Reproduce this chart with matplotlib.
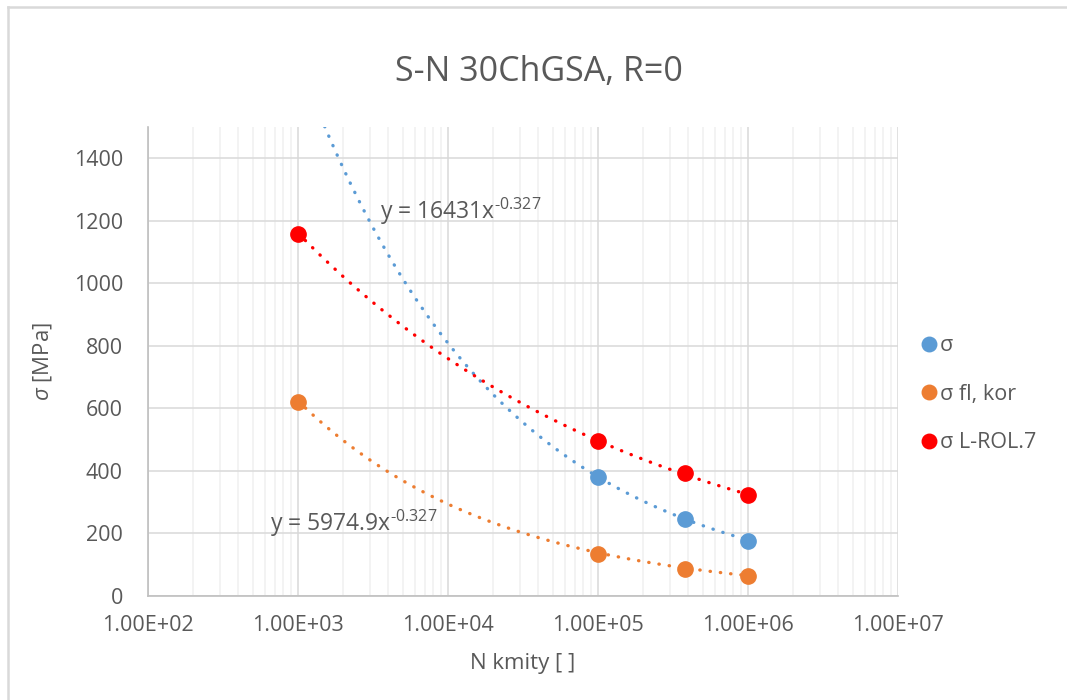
import numpy as np
import matplotlib
matplotlib.use("Agg")
from matplotlib import pyplot as plt
from matplotlib.lines import Line2D
from matplotlib.ticker import FixedLocator, LogLocator, NullFormatter

plt.rcParams['font.family'] = ['Open Sans', 'DejaVu Sans']
plt.rcParams['mathtext.fontset'] = 'custom'
plt.rcParams['mathtext.rm'] = 'Open Sans'
plt.rcParams['mathtext.it'] = 'Open Sans:italic'

# data
n_sigma = [1e5, 3.8e5, 1e6]
sigma = [380, 246, 175]

n_fl_kor = [1e3, 1e5, 3.8e5, 1e6]
sigma_fl_kor = [622, 134, 86, 64]

n_lrol = [1e3, 1e5, 3.8e5, 1e6]
sigma_lrol = [1159, 497, 392, 322]

# power trendlines shown on the chart (y = a * x^b)
fit_sigma = (16431, -0.327)
fit_fl_kor = (5974.9, -0.327)

x_ticks = [1e2, 1e3, 1e4, 1e5, 1e6, 1e7]
y_ticks = [0, 200, 400, 600, 800, 1000, 1200, 1400]

c_blue = '#5B9BD5'
c_orange = '#ED7D31'
c_red = '#FF0000'
c_text = '#595959'

fig = plt.figure(figsize=(10.67, 7), dpi=100)
ax = fig.add_axes([148 / 1067, 1 - 596 / 700, 750 / 1067, 469 / 700])

# trendlines
x_tr = np.logspace(3, 6, 300)
b_red, loga_red = np.polyfit(np.log10(n_lrol), np.log10(sigma_lrol), 1)
fits = [
    (fit_sigma[0], fit_sigma[1], c_blue),
    (fit_fl_kor[0], fit_fl_kor[1], c_orange),
    (10 ** loga_red, b_red, c_red),
]
for a, b, c in fits:
    ax.plot(x_tr, a * x_tr ** b, color=c, lw=2.4, linestyle=(0, (0.1, 3.0)),
            dash_capstyle='round', zorder=3, clip_on=True)

# points
ms = 11
ax.plot(n_sigma, sigma, 'o', color=c_blue, ms=ms, label='σ', zorder=4)
ax.plot(n_fl_kor, sigma_fl_kor, 'o', color=c_orange, ms=ms, label='σ fl, kor', zorder=4)
ax.plot(n_lrol, sigma_lrol, 'o', color=c_red, ms=ms, label='σ L-ROL.7', zorder=4)

ax.set_xscale('log')
ax.set_xlim(1e2, 1e7)
ax.set_ylim(0, 1500)
ax.xaxis.set_major_locator(FixedLocator(x_ticks))
ax.xaxis.set_minor_locator(LogLocator(base=10, subs=np.arange(2, 10)))
ax.xaxis.set_minor_formatter(NullFormatter())
ax.set_xticks(x_ticks)
ax.set_xticklabels(['%.2E' % v for v in x_ticks])
ax.set_yticks(y_ticks)

ax.grid(which='major', axis='both', color='#d9d9d9', lw=1.1, zorder=0)
ax.grid(which='minor', axis='x', color='#f0f0f0', lw=1.1, zorder=0)
ax.set_axisbelow(True)

for s in ['top', 'right']:
    ax.spines[s].set_visible(False)
for s in ['left', 'bottom']:
    ax.spines[s].set_color('#bfbfbf')
    ax.spines[s].set_linewidth(1.2)

ax.tick_params(which='both', length=0, labelsize=15.5, labelcolor=c_text)
ax.tick_params(axis='x', pad=14)
ax.tick_params(axis='y', pad=18)

fig.text(539 / 1067, 1 - 72 / 700, 'S-N 30ChGSA, R=0', fontsize=24.5, color=c_text,
         ha='center', va='center')
ax.set_xlabel('N kmity [ ]', fontsize=16, color=c_text, labelpad=12)
ax.set_ylabel(r'$\mathit{\sigma}$ [MPa]', fontsize=16, color=c_text, labelpad=14)

# trendline equations
ax.text(3520, 1231, 'y = 16431x$^{\u20100.327}$', fontsize=16.5, color=c_text,
        va='center', ha='left', zorder=5)
ax.text(651, 233, 'y = 5974.9x$^{\u20100.327}$', fontsize=16.5, color=c_text,
        va='center', ha='left', zorder=5)

leg = ax.legend(loc='upper left', bbox_to_anchor=(903 / 1067, 1 - 316 / 700),
                bbox_transform=fig.transFigure, frameon=False, fontsize=15.5,
                handlelength=0.6, handletextpad=0.2, labelspacing=1.28,
                labelcolor=c_text, markerscale=0.95)

# chart area border
fig.add_artist(Line2D([8 / 1067, 1.01], [1 - 7 / 700, 1 - 7 / 700], color='#d9d9d9',
                      lw=1.8, transform=fig.transFigure))
fig.add_artist(Line2D([8 / 1067, 8 / 1067], [-0.01, 1 - 7 / 700], color='#d9d9d9',
                      lw=1.8, transform=fig.transFigure))

fig.savefig('out.png', dpi=100)
